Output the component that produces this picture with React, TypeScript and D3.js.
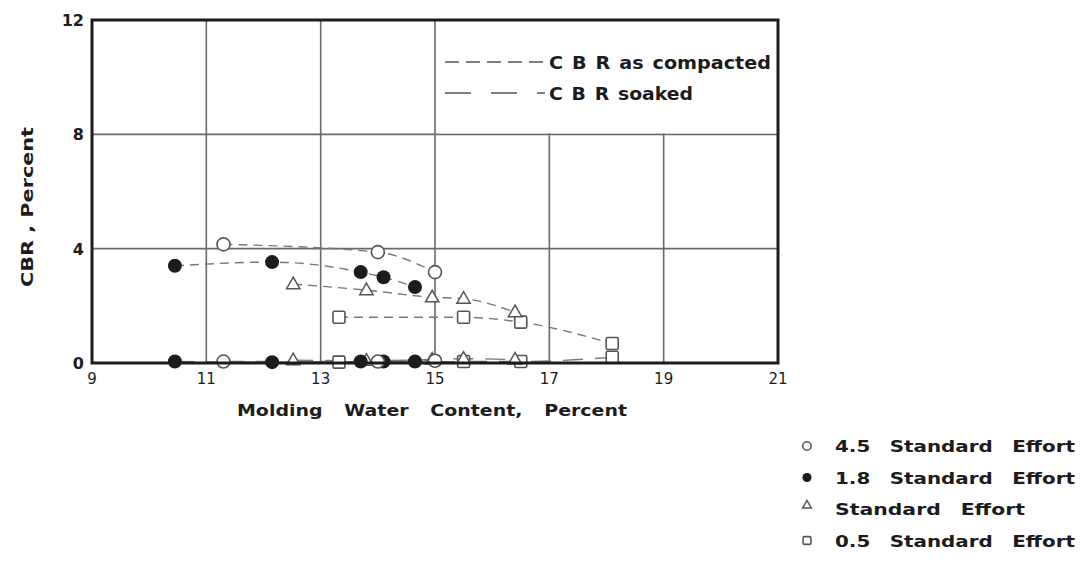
import React from "react";
import * as d3 from "d3";

// Axis ticks
const xTicks = [9, 11, 13, 15, 17, 19, 21];
const yTicks = [0, 4, 8, 12];

// 4.5 x Standard Effort (open circles)
const effort45Water = [11.3, 14.0, 15.0];
const effort45Compacted = [4.15, 3.88, 3.18];
const effort45Soaked = [0.05, 0.05, 0.08];

// 1.8 x Standard Effort (filled circles)
const effort18Water = [10.45, 12.15, 13.7, 14.1, 14.65];
const effort18Compacted = [3.4, 3.53, 3.18, 3.0, 2.66];
const effort18Soaked = [0.05, 0.03, 0.05, 0.05, 0.05];

// Standard Effort (triangles)
const standardWater = [12.52, 13.8, 14.95, 15.5, 16.4];
const standardCompacted = [2.76, 2.55, 2.3, 2.25, 1.78];
const standardSoaked = [0.1, 0.08, 0.12, 0.15, 0.12];

// 0.5 x Standard Effort (squares)
const effort05Water = [13.32, 15.5, 16.5, 18.1];
const effort05Compacted = [1.6, 1.6, 1.43, 0.68];
const effort05Soaked = [0.03, 0.05, 0.05, 0.2];

const legendLabels = [
  "4.5 Standard Effort",
  "1.8 Standard Effort",
  "Standard Effort",
  "0.5 Standard Effort",
];

const W = 1080;
const H = 563;
const ink = "#1c1c1c";
const font = "'DejaVu Sans', sans-serif";

type Shape = "openCircle" | "dot" | "triangle" | "square";

function Marker({ shape, cx, cy, s = 1 }: { shape: Shape; cx: number; cy: number; s?: number }) {
  if (shape === "openCircle")
    return <circle cx={cx} cy={cy} r={6.5 * s} fill="white" stroke="#555" strokeWidth={1.6} />;
  if (shape === "dot") return <circle cx={cx} cy={cy} r={7 * s} fill={ink} />;
  if (shape === "triangle") {
    const r = 7 * s;
    const p = [
      [cx, cy - r],
      [cx - r * 0.95, cy + r * 0.65],
      [cx + r * 0.95, cy + r * 0.65],
    ];
    return <polygon points={p.map((d) => d.join(",")).join(" ")} fill="white" stroke="#555" strokeWidth={1.5} />;
  }
  const h = 6 * s;
  return <rect x={cx - h} y={cy - h} width={2 * h} height={2 * h} rx={1.5} fill="white" stroke="#555" strokeWidth={1.6} />;
}

export default function App() {
  const x = d3.scaleLinear().domain([9, 21]).range([92, 778]);
  const y = d3.scaleLinear().domain([0, 12]).range([363, 20]);

  const series: { shape: Shape; water: number[]; comp: number[]; soak: number[] }[] = [
    { shape: "square", water: effort05Water, comp: effort05Compacted, soak: effort05Soaked },
    { shape: "triangle", water: standardWater, comp: standardCompacted, soak: standardSoaked },
    { shape: "dot", water: effort18Water, comp: effort18Compacted, soak: effort18Soaked },
    { shape: "openCircle", water: effort45Water, comp: effort45Compacted, soak: effort45Soaked },
  ];

  const line = d3
    .line<[number, number]>()
    .x((d) => x(d[0]))
    .y((d) => y(d[1]))
    .curve(d3.curveMonotoneX);

  const legendShapes: Shape[] = ["openCircle", "dot", "triangle", "square"];

  return (
    <svg width={W} height={H} style={{ position: "absolute", left: 0, top: 0, background: "white" }}>
      <rect width={W} height={H} fill="white" />

      {/* grid */}
      {xTicks.slice(1, -1).map((t) => (
        <line key={"gx" + t} x1={x(t)} x2={x(t)} y1={y(12)} y2={y(0)} stroke="#6a6a6a" strokeWidth={1.6} />
      ))}
      {yTicks.slice(1, -1).map((t) => (
        <line key={"gy" + t} x1={x(9)} x2={x(21)} y1={y(t)} y2={y(t)} stroke="#6a6a6a" strokeWidth={1.6} />
      ))}

      {/* legend panel covering the upper right grid cells */}
      <rect x={x(15) + 1} y={y(12)} width={x(21) - x(15) - 1} height={y(8) - y(12) - 1} fill="white" />

      {/* line legend */}
      <line x1={445} x2={545} y1={62} y2={62} stroke="#555" strokeWidth={1.5} strokeDasharray="14 7" />
      <text x={549} y={69} fontFamily={font} fontSize={17} fontWeight="bold" fill={ink} textLength={222} lengthAdjust="spacingAndGlyphs" wordSpacing={2}>
        C B R as compacted
      </text>
      <line x1={445} x2={545} y1={93} y2={93} stroke="#555" strokeWidth={1.5} strokeDasharray="26 20" />
      <text x={549} y={100} fontFamily={font} fontSize={17} fontWeight="bold" fill={ink} textLength={144} lengthAdjust="spacingAndGlyphs" wordSpacing={2}>
        C B R soaked
      </text>

      {/* compacted curves */}
      {series.map((s, i) => (
        <path
          key={"c" + i}
          d={line(s.water.map((w, j) => [w, s.comp[j]] as [number, number])) || ""}
          fill="none"
          stroke="#777"
          strokeWidth={1.4}
          strokeDasharray="9 6"
        />
      ))}
      {/* soaked curves */}
      {series.map((s, i) => (
        <path
          key={"s" + i}
          d={line(s.water.map((w, j) => [w, s.soak[j]] as [number, number])) || ""}
          fill="none"
          stroke="#777"
          strokeWidth={1.4}
          strokeDasharray="20 12"
        />
      ))}

      {/* points */}
      {series.map((s, i) => (
        <g key={"p" + i}>
          {s.water.map((w, j) => (
            <Marker key={"pc" + j} shape={s.shape} cx={x(w)} cy={y(s.comp[j])} />
          ))}
          {s.water.map((w, j) => (
            <Marker key={"ps" + j} shape={s.shape} cx={x(w)} cy={y(s.soak[j])} />
          ))}
        </g>
      ))}

      {/* frame */}
      <rect x={x(9)} y={y(12)} width={x(21) - x(9)} height={y(0) - y(12)} fill="none" stroke={ink} strokeWidth={3} />

      {/* tick labels */}
      {yTicks.map((t) => (
        <text key={"ty" + t} x={84} y={y(t) + 6} textAnchor="end" fontFamily={font} fontSize={16} fontWeight="bold" fill={ink}>
          {t}
        </text>
      ))}
      {xTicks.map((t) => (
        <text key={"tx" + t} x={x(t)} y={384} textAnchor="middle" fontFamily={font} fontSize={15} fill={ink}>
          {t}
        </text>
      ))}

      {/* axis titles */}
      <text x={237} y={416} fontFamily={font} fontSize={15} fontWeight="bold" fill={ink} wordSpacing={12} textLength={390} lengthAdjust="spacingAndGlyphs">
        Molding Water Content, Percent
      </text>
      <text
        transform="translate(33,287) rotate(-90)"
        fontFamily={font}
        fontSize={15}
        fontWeight="bold"
        fill={ink}
        textLength={160}
        lengthAdjust="spacingAndGlyphs"
      >
        CBR , Percent
      </text>

      {/* marker legend */}
      {legendLabels.map((lab, i) => {
        const cy = 446 + i * 31.5;
        return (
          <g key={"lg" + i}>
            <Marker shape={legendShapes[i]} cx={807} cy={i === 2 ? cy - 4 : cy} s={0.65} />
            <text
              x={835}
              y={cy + 6}
              fontFamily={font}
              fontSize={16}
              fontWeight="bold"
              fill={ink}
              wordSpacing={10}
              textLength={i === 2 ? 190 : 240}
              lengthAdjust="spacingAndGlyphs"
            >
              {lab}
            </text>
          </g>
        );
      })}
    </svg>
  );
}
